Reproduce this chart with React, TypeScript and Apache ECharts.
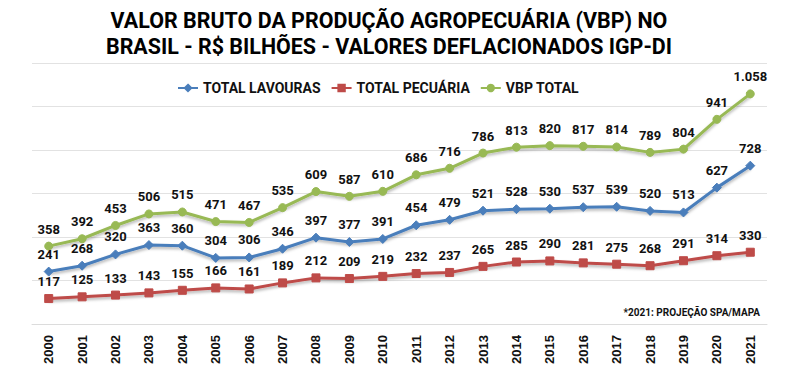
import React, { useEffect, useRef } from "react";
import * as echarts from "echarts";

const years = ["2000","2001","2002","2003","2004","2005","2006","2007","2008","2009","2010","2011","2012","2013","2014","2015","2016","2017","2018","2019","2020","2021"];
const lavouras = [241,268,320,363,360,304,306,346,397,377,391,454,479,521,528,530,537,539,520,513,627,728];
const pecuaria = [117,125,133,143,155,166,161,189,212,209,219,232,237,265,285,290,281,275,268,291,314,330];
const vbpTotal = [358,392,453,506,515,471,467,535,609,587,610,686,716,786,813,820,817,814,789,804,941,1058];

const titleLines = ["VALOR BRUTO DA PRODUÇÃO AGROPECUÁRIA (VBP) NO", "BRASIL - R$ BILHÕES - VALORES DEFLACIONADOS IGP-DI"];
const footnote = "*2021: PROJEÇÃO SPA/MAPA";

const fmt = (v: number) => v.toLocaleString("pt-BR").replace(/\s/g, ".");

export default function App() {
  const ref = useRef<HTMLDivElement>(null);
  useEffect(() => {
    if (!ref.current) return;
    const chart = echarts.init(ref.current, undefined, { renderer: "svg" });
    const labelStyle = {
      show: true,
      position: "top" as const,
      distance: 6,
      color: "#111",
      fontWeight: "bold" as const,
      fontSize: 13,
      fontFamily: "Roboto, Arial, sans-serif",
      formatter: (p: any) => fmt(p.value),
    };
    const mk = (name: string, data: number[], color: string, symbol: string, size: number) => ({
      name,
      type: "line",
      data,
      symbol,
      symbolSize: size,
      lineStyle: { color, width: 3, shadowBlur: 3, shadowColor: "rgba(0,0,0,0.3)", shadowOffsetY: 2 },
      itemStyle: { color, borderColor: color, borderWidth: 1 },
      label: labelStyle,
    });
    chart.setOption({
      animation: false,
      backgroundColor: "#fff",
      graphic: [
        {
          type: "text",
          x: 389,
          y: 20,
          scaleX: 0.975,
          style: {
            text: titleLines[0],
            fill: "#000",
            font: "bold 22px Roboto, Arial, sans-serif",
            textAlign: "center",
            textVerticalAlign: "middle",
          },
        },
        {
          type: "text",
          x: 389,
          y: 46,
          scaleX: 0.975,
          style: {
            text: titleLines[1],
            fill: "#000",
            font: "bold 22px Roboto, Arial, sans-serif",
            textAlign: "center",
            textVerticalAlign: "middle",
          },
        },
        {
          type: "text",
          x: 760,
          y: 312,
          style: {
            text: footnote,
            fill: "#111",
            font: "bold 10px Roboto, Arial, sans-serif",
            textAlign: "right",
            textVerticalAlign: "middle",
          },
        },
      ],
      legend: {
        top: 76,
        left: 172,
        itemWidth: 20,
        itemHeight: 8,
        itemGap: 10,
        textStyle: { color: "#111", fontWeight: "bold", fontSize: 14, fontFamily: "Roboto, Arial, sans-serif" },
        data: ["TOTAL LAVOURAS", "TOTAL PECUÁRIA", "VBP TOTAL"],
      },
      grid: { left: 32, right: 29, top: 63, bottom: 53 },
      xAxis: {
        type: "category",
        data: years,
        boundaryGap: true,
        axisLine: { show: true, lineStyle: { color: "#dcdcdc", width: 1 } },
        axisTick: { show: false },
        axisLabel: {
          rotate: 90,
          margin: 11,
          color: "#111",
          fontWeight: "bold",
          fontSize: 13,
          fontFamily: "Arial, Liberation Sans, sans-serif",
        },
      },
      yAxis: {
        type: "value",
        min: 0,
        max: 1200,
        interval: 200,
        axisLabel: { show: false },
        axisLine: { show: false },
        axisTick: { show: false },
        splitLine: { show: true, lineStyle: { color: "#e2e2e2", width: 1 } },
      },
      series: [
        mk("TOTAL LAVOURAS", lavouras, "#4A7EBB", "diamond", 9),
        mk("TOTAL PECUÁRIA", pecuaria, "#BE4B48", "rect", 8),
        mk("VBP TOTAL", vbpTotal, "#98B954", "circle", 8),
      ],
    });
    return () => chart.dispose();
  }, []);
  return <div ref={ref} style={{ width: 796, height: 377, position: "absolute", left: 0, top: 0 }} />;
}
